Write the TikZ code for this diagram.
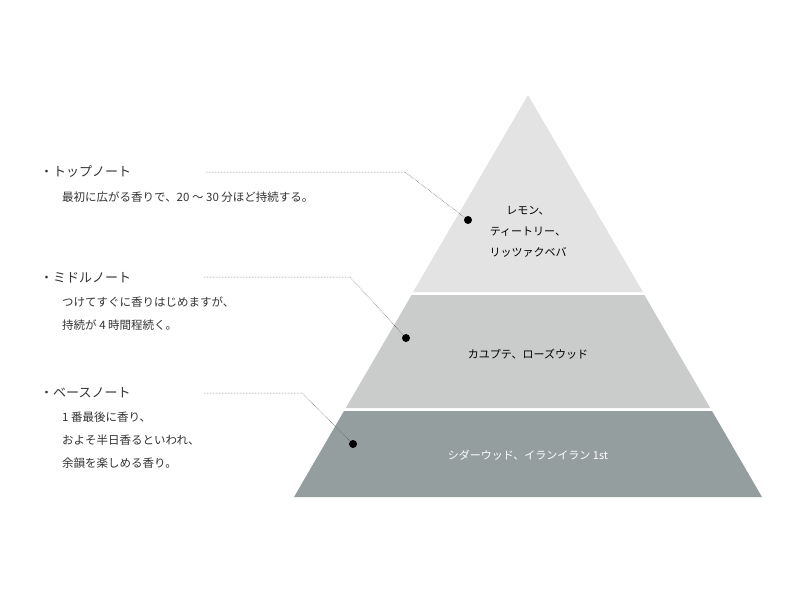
\documentclass[tikz,border=0pt]{standalone}
\usepackage{fontspec}
\setmainfont{Noto Sans CJK JP}
\usepackage{xcolor}
\definecolor{toptone}{HTML}{E3E3E4}
\definecolor{midtone}{HTML}{CACCCC}
\definecolor{basetone}{HTML}{959E9E}
\tikzset{
  notehead/.style={anchor=west,font=\fontsize{13}{15}\selectfont,text=black!80,inner sep=0},
  notebody/.style={anchor=north west,align=left,font=\fontsize{11.5}{23}\selectfont,text=black!80,inner sep=0},
  tierlabel/.style={align=center,font=\fontsize{11}{21}\selectfont,inner sep=0},
  notedot/.style={circle,fill=black,inner sep=0,minimum size=8pt},
  leader/.style={densely dotted,line width=0.5pt,black!70}
}
\begin{document}
\begin{tikzpicture}[x=1pt,y=-1pt]
    \useasboundingbox (0,0) rectangle (800,600);
    % pyramid tiers
    \fill [toptone] (528,95) -- (643,292) -- (413,292) -- cycle;
    \fill [midtone] (411.6,295) -- (644.4,295) -- (710.2,408) -- (345.8,408) -- cycle;
    \fill [basetone] (344,411) -- (712,411) -- (762,497) -- (294,497) -- cycle;
    \node [tierlabel] (toptext) at (528,232) {レモン、\\ティートリー、\\リッツァクベバ};
    \node [tierlabel] (midtext) at (528,354) {カユプテ、ローズウッド};
    \node [tierlabel,text=white] (basetext) at (528,455) {シダーウッド、イランイラン 1st};
    % notes
    \node [notehead] (tophead) at (40,172) {・トップノート};
    \node [notebody] (topbody) at (62,192) {最初に広がる香りで、20 〜 30 分ほど持続する。};
    \node [notehead] (midhead) at (40,278) {・ミドルノート};
    \node [notebody] (midbody) at (62,297) {つけてすぐに香りはじめますが、\\持続が 4 時間程続く。};
    \node [notehead] (basehead) at (40,393) {・ベースノート};
    \node [notebody] (basebody) at (62,412) {1 番最後に香り、\\およそ半日香るといわれ、\\余韻を楽しめる香り。};
    % dots and leaders
    \node [notedot] (topdot) at (468,220) {};
    \node [notedot] (middot) at (406,338) {};
    \node [notedot] (basedot) at (353,444) {};
    \coordinate (topstart) at (206,172);
    \coordinate (topbend) at (405,172);
    \coordinate (midstart) at (204,277);
    \coordinate (midbend) at (350,277);
    \coordinate (basestart) at (204,393);
    \coordinate (basebend) at (302,393);
    \draw [leader] (topstart) -- (topbend) -- (topdot);
    \draw [leader] (midstart) -- (midbend) -- (middot);
    \draw [leader] (basestart) -- (basebend) -- (basedot);
\end{tikzpicture}
\end{document}
